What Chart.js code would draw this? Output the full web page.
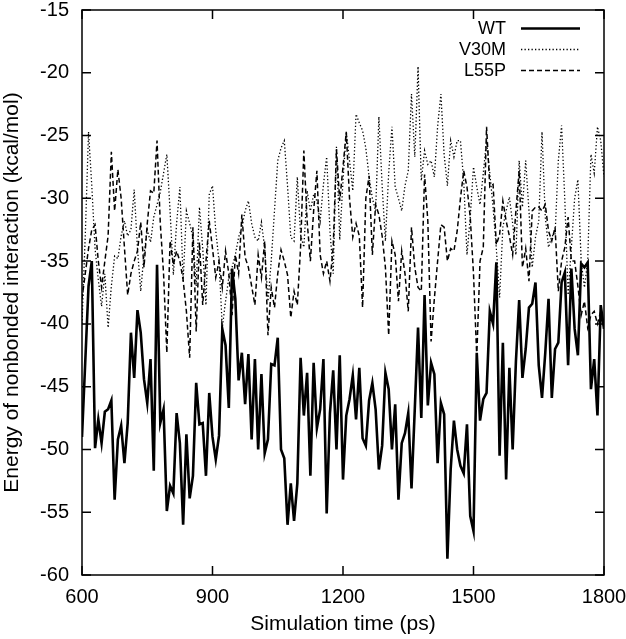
<!DOCTYPE html>
<html>
<head>
<meta charset="utf-8">
<script src="https://cdn.jsdelivr.net/npm/chart.js@4/dist/chart.umd.min.js"></script>
<style>
  html, body { margin: 0; padding: 0; background: #fff; }
  #wrap { width: 626px; height: 639px; }
</style>
</head>
<body>
<div id="wrap"><canvas id="chart" width="626" height="639"></canvas></div>
<script>
// simulation time (ps)
const times = [
  600, 607.5, 615, 622.5, 630, 637.5, 645, 652.5, 660, 667.5,
  675, 682.5, 690, 697.5, 705, 712.5, 720, 727.5, 735, 742.5,
  750, 757.5, 765, 772.5, 780, 787.5, 795, 802.5, 810, 817.5,
  825, 832.5, 840, 847.5, 855, 862.5, 870, 877.5, 885, 892.5,
  900, 907.5, 915, 922.5, 930, 937.5, 945, 952.5, 960, 967.5,
  975, 982.5, 990, 997.5, 1005, 1012.5, 1020, 1027.5, 1035, 1042.5,
  1050, 1057.5, 1065, 1072.5, 1080, 1087.5, 1095, 1102.5, 1110, 1117.5,
  1125, 1132.5, 1140, 1147.5, 1155, 1162.5, 1170, 1177.5, 1185, 1192.5,
  1200, 1207.5, 1215, 1222.5, 1230, 1237.5, 1245, 1252.5, 1260, 1267.5,
  1275, 1282.5, 1290, 1297.5, 1305, 1312.5, 1320, 1327.5, 1335, 1342.5,
  1350, 1357.5, 1365, 1372.5, 1380, 1387.5, 1395, 1402.5, 1410, 1417.5,
  1425, 1432.5, 1440, 1447.5, 1455, 1462.5, 1470, 1477.5, 1485, 1492.5,
  1500, 1507.5, 1515, 1522.5, 1530, 1537.5, 1545, 1552.5, 1560, 1567.5,
  1575, 1582.5, 1590, 1597.5, 1605, 1612.5, 1620, 1627.5, 1635, 1642.5,
  1650, 1657.5, 1665, 1672.5, 1680, 1687.5, 1695, 1702.5, 1710, 1717.5,
  1725, 1732.5, 1740, 1747.5, 1755, 1762.5, 1770, 1777.5, 1785, 1792.5,
  1800
]

const wt = [
  -49, -43, -37, -35, -49.9, -47.6, -49.5, -47, -46.8, -46.1,
  -54, -49.2, -48.1, -51.1, -47.9, -40.7, -44.3, -38.9, -40.7, -44.4,
  -46.3, -42.8, -51.7, -35.3, -47.9, -46.8, -54.9, -52.9, -53.5, -47.1,
  -49.5, -56, -48.8, -53.9, -52.1, -44.7, -48, -47.9, -52.1, -45.5,
  -49, -50.8, -48.9, -40.4, -41.7, -46.7, -35.6, -38, -44.5, -42.3,
  -46.4, -42.4, -49.2, -42.8, -50, -44, -50.3, -49.2, -43.2, -43.3,
  -41.1, -50, -50.7, -56, -52.7, -55.7, -52.7, -42.7, -47.3, -43.9,
  -52.1, -43.1, -48.3, -46.8, -42.8, -55.1, -47.1, -43.7, -50, -42.5,
  -52.4, -47.3, -46, -44.1, -47.6, -43.5, -49.1, -49.7, -46.1, -44.7,
  -46.8, -51.6, -49.7, -43.9, -45.2, -50, -46.4, -54, -49.5, -48.7,
  -47.1, -53.1, -46.8, -40.3, -47.5, -37.7, -46.5, -43.1, -44, -51.1,
  -46.3, -47.2, -58.7, -51.6, -47.7, -50, -51.3, -51.9, -48, -55.3,
  -56.5, -42.3, -47.7, -46, -45.5, -39, -40, -35.1, -50.5, -41.5,
  -52.4, -43.5, -50, -43, -38.1, -44.3, -42, -38.7, -38.4, -36.7,
  -43.3, -45.9, -42.3, -38, -45.9, -42, -41.5, -36.7, -35.9, -43.3,
  -35.6, -40.4, -42.5, -35.2, -35.5, -35.1, -45.2, -42.8, -47.3, -38.5,
  -40.4
]

const v30m = [
  -40, -33, -24.7, -29, -34, -36.5, -38.6, -36, -40.3, -37,
  -34.6, -34.8, -33, -31.8, -33, -32.5, -29.3, -34, -37.4, -34.5,
  -32.5, -33.5, -31.5, -30.5, -29.5, -28, -26.5, -31, -36.1, -32,
  -29.1, -36.6, -31, -32, -33.1, -37, -30.7, -34, -38.5, -29.7,
  -29, -32.6, -35, -40.3, -38.2, -36.3, -35.5, -34.5, -33.1, -32.3,
  -31, -30.2, -32, -33.1, -33.4, -31.9, -34, -38.2, -35, -31,
  -27, -26, -25.4, -29, -33.1, -33.4, -28.3, -32.9, -33.9, -29.4,
  -31, -29.7, -30.2, -31.8, -28.9, -26.7, -32.6, -36, -25.9, -33.3,
  -28.6, -24.7, -27, -29.4, -23.3, -24, -24.6, -26, -28.3, -30,
  -31, -23.5, -29, -33.4, -28, -24.3, -29.1, -30, -31, -29,
  -27.8, -21.7, -26.7, -19.5, -28.6, -26.2, -27.3, -27, -28.3, -24.3,
  -21.7, -26.5, -29, -25.4, -26.7, -25.4, -25.4, -28.6, -34.5, -31.5,
  -27.5, -29.1, -30.5, -28, -25.4, -28, -30.7, -34, -37.9, -32.3,
  -31, -29.9, -32, -34.5, -27, -30.7, -27, -31, -35.5, -33.1,
  -31.8, -24.7, -31.5, -33.9, -33, -32.9, -27, -24.2, -30.2, -37.7,
  -33.9, -30, -28.5, -35, -37.1, -35, -26.5, -28, -24.3, -25.4,
  -28.3
]

const l55p = [
  -38, -36, -34, -32.5, -32.1, -35, -37.1, -35, -33, -26.3,
  -31, -27.7, -30, -33.9, -37.7, -36, -35, -34.2, -31.9, -35.5,
  -32, -29.4, -29.6, -25.4, -32, -36, -42.3, -33.4, -35.3, -34.2,
  -35, -36.5, -39, -42.7, -32.3, -40.6, -33.5, -38.5, -35, -31.8,
  -34, -36.3, -35, -37.1, -34.2, -36, -39.3, -34.5, -36, -31.3,
  -34.7, -35.5, -37, -38.5, -34.5, -36.3, -33.4, -40.9, -37.1, -38.7,
  -36, -34.1, -35, -36.1, -39.5, -37.4, -38.5, -33.9, -26.2, -31.8,
  -35, -31, -27.8, -34.5, -36, -35, -36.6, -33.9, -26.1, -30.2,
  -27.5, -24.7, -30, -33.1, -32, -33, -38.7, -30, -28.2, -34.5,
  -30.5, -31.3, -33, -35.5, -40.9, -33.4, -34.5, -38.2, -34.2, -36,
  -39, -32.3, -35.5, -37.1, -37.4, -28.1, -31.8, -41.4, -38, -35,
  -32.1, -32.3, -35, -34, -34.2, -32.6, -30, -27.8, -29.1, -31.5,
  -36, -42.6, -35, -33.9, -24.3, -29.1, -28.9, -33.7, -32.9, -30.2,
  -31.8, -33, -34.5, -31, -27.8, -35.5, -34, -36.6, -31, -30.7,
  -30.7, -31, -30.5, -32.6, -33.4, -32.3, -37.4, -35, -33.9, -31.5,
  -35, -35, -37, -39.3, -38.2, -40.3, -39.3, -39, -40, -39,
  -40.3
]

const xTicks = [600, 900, 1200, 1500, 1800]
const yTicks = [-60, -55, -50, -45, -40, -35, -30, -25, -20, -15]

const font = "Liberation Sans, Arial, Helvetica, sans-serif"

function pts(vals) {
  return vals.map((v, i) => ({ x: times[i], y: v }))
}

// frame, inward ticks and the legend, gnuplot style
const framePlugin = {
  id: "frame",
  afterDatasetsDraw(chart) {
    const { ctx, chartArea: a, scales } = chart
    ctx.save()
    ctx.strokeStyle = "#000"
    ctx.lineWidth = 1.5
    ctx.setLineDash([])
    ctx.strokeRect(a.left, a.top, a.right - a.left, a.bottom - a.top)
    ctx.beginPath()
    yTicks.forEach(t => {
      const y = scales.y.getPixelForValue(t)
      ctx.moveTo(a.left, y); ctx.lineTo(a.left + 9, y)
      ctx.moveTo(a.right, y); ctx.lineTo(a.right - 9, y)
    })
    xTicks.forEach(t => {
      const x = scales.x.getPixelForValue(t)
      ctx.moveTo(x, a.bottom); ctx.lineTo(x, a.bottom - 9)
      ctx.moveTo(x, a.top); ctx.lineTo(x, a.top + 9)
    })
    ctx.stroke()

    // legend: text right aligned, sample line to the right
    ctx.font = "18px " + font
    ctx.fillStyle = "#000"
    ctx.textAlign = "right"
    ctx.textBaseline = "middle"
    chart.data.datasets.forEach((ds, i) => {
      const y = 28.5 + i * 21
      ctx.fillText(ds.label, 506, y + 1)
      ctx.beginPath()
      ctx.lineWidth = ds.borderWidth
      ctx.setLineDash(ds.borderDash || [])
      ctx.moveTo(521, y); ctx.lineTo(580, y)
      ctx.stroke()
    })
    ctx.restore()
  }
}

new Chart(document.getElementById("chart"), {
  type: "line",
  data: {
    datasets: [
      { label: "WT", data: pts(wt), borderColor: "#000", borderWidth: 2.6, borderDash: [] },
      { label: "V30M", data: pts(v30m), borderColor: "#000", borderWidth: 1.3, borderDash: [1.3, 2.2] },
      { label: "L55P", data: pts(l55p), borderColor: "#000", borderWidth: 1.5, borderDash: [5, 3] }
    ]
  },
  options: {
    responsive: false,
    animation: false,
    layout: { padding: { left: 0, top: 10, right: 22, bottom: 0 } },
    elements: { point: { radius: 0 }, line: { tension: 0 } },
    plugins: { legend: { display: false }, tooltip: { enabled: false } },
    scales: {
      x: {
        type: "linear",
        min: 600, max: 1800,
        afterBuildTicks: s => { s.ticks = xTicks.map(v => ({ value: v })) },
        afterFit: s => { s.height = 64; s.paddingLeft = 0; s.paddingRight = 0 },
        grid: { display: false, drawTicks: false },
        border: { display: false },
        ticks: { color: "#000", font: { family: font, size: 20 }, padding: 10, maxRotation: 0, callback: v => String(v) },
        title: { display: true, text: "Simulation time (ps)", color: "#000", font: { family: font, size: 21 }, padding: { top: 0, bottom: 2 } }
      },
      y: {
        min: -60, max: -15,
        afterBuildTicks: s => { s.ticks = yTicks.map(v => ({ value: v })) },
        afterFit: s => { s.width = 82; s.paddingTop = 0; s.paddingBottom = 0 },
        grid: { display: false, drawTicks: false },
        border: { display: false },
        ticks: { color: "#000", font: { family: font, size: 20 }, padding: 13, callback: v => String(v) },
        title: { display: true, text: "Energy of nonbonded interaction (kcal/mol)", color: "#000", font: { family: font, size: 21 }, padding: { top: 0, bottom: 2 } }
      }
    }
  },
  plugins: [framePlugin]
})
</script>
</body>
</html>
